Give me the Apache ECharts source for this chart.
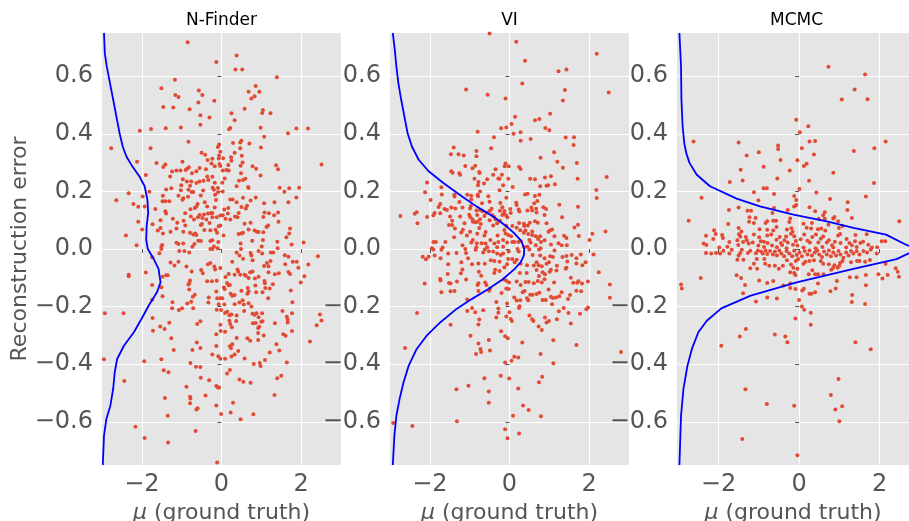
<!DOCTYPE html>
<html>
<head>
<meta charset="utf-8">
<script src="https://cdn.jsdelivr.net/npm/echarts@6/dist/echarts.min.js"></script>
<style>
  html, body { margin: 0; padding: 0; background: #fff; }
  #chart { width: 909px; height: 521px; }
</style>
</head>
<body>
<div id="chart"></div>
<script>
// panel titles and ticks
const panelTitles = ['N-Finder', 'VI', 'MCMC']
const xTicks = [-2, 0, 2]
const yTicks = [-0.6, -0.4, -0.2, 0, 0.2, 0.4, 0.6]

// N-Finder scatter: [mu, reconstruction error]
const nfinderPts = [
  [-0.85,0.718],[0.38,0.672],[-0.13,0.649],[0.35,0.623],[0.52,0.623],[1.39,0.596],[-1.17,0.588],[0.86,0.566],
  [-1.51,0.558],[-0.57,0.55],[0.68,0.546],[0.95,0.546],[-1.16,0.535],[-1.08,0.528],[-0.48,0.535],[0.83,0.53],
  [0.75,0.523],[-0.18,0.515],[-0.58,0.509],[-1.46,0.493],[-1.21,0.491],[-0.8,0.485],[0.58,0.487],[1.04,0.483],
  [1.02,0.472],[0.25,0.471],[1.23,0.471],[-0.53,0.464],[-0.3,0.457],[0.33,0.447],[-0.53,0.431],[0.22,0.42],
  [0.19,0.416],[0.98,0.421],[-2.05,0.411],[-1.77,0.417],[-1.4,0.419],[-1.02,0.422],[1.88,0.418],[2.17,0.418],
  [1.67,0.402],[1.07,0.39],[-0.83,0.372],[0.5,0.376],[0.47,0.37],[0.29,0.368],[-0.06,0.363],[-0.09,0.354],
  [0.7,0.366],[-2.77,0.35],[-1.78,0.35],[0.99,0.352],[0.47,0.35],[-0.03,0.338],[-0.5,0.334],[0.33,0.334],
  [-0.41,0.327],[0.51,0.324],[-0.06,0.325],[0.24,0.319],[-0.35,0.309],[-0.23,0.313],[-0.07,0.314],[0.04,0.315],
  [-2.12,0.303],[-1.63,0.299],[-0.98,0.303],[0.25,0.306],[0.53,0.3],[-1.41,0.293],[-1.46,0.285],[-0.25,0.297],
  [-0.05,0.295],[-0.82,0.284],[-0.17,0.287],[-0.03,0.288],[0.17,0.292],[0.48,0.289],[0.78,0.287],[0.87,0.279],
  [1.37,0.291],[1.42,0.277],[2.51,0.293],[-1.24,0.269],[-1.13,0.273],[-1.03,0.273],[-0.9,0.274],[-0.86,0.279],
  [-0.63,0.27],[-0.55,0.281],[-0.39,0.277],[0.03,0.273],[0.12,0.274],[0.18,0.273],[-1.9,0.257],[-1.29,0.252],
  [-0.74,0.263],[-0.36,0.252],[-0.23,0.251],[0.49,0.263],[0.98,0.255],[-0.97,0.242],[0.08,0.245],[0.54,0.24],
  [0.44,0.237],[0.6,0.244],[-0.87,0.234],[-0.76,0.234],[-0.63,0.229],[-0.55,0.234],[-0.45,0.237],[-0.33,0.24],
  [-0.17,0.23],[0.02,0.23],[-1.01,0.221],[-0.79,0.22],[0.38,0.218],[0.67,0.215],[0.68,0.212],[-0.22,0.213],
  [-0.19,0.206],[-0.09,0.212],[-1.39,0.207],[-1.26,0.211],[-1.02,0.204],[-0.83,0.206],[-0.75,0.198],[-0.71,0.198],
  [-0.46,0.203],[-0.09,0.197],[0.03,0.2],[1.46,0.213],[1.7,0.211],[1.95,0.213],[1.58,0.199],[-2.33,0.194],
  [-1.81,0.199],[-1.98,0.182],[-1.47,0.185],[-1.08,0.185],[-0.96,0.176],[-0.98,0.171],[-0.84,0.181],[-0.52,0.186],
  [-0.16,0.188],[-0.14,0.17],[0.22,0.172],[0.28,0.172],[0.54,0.178],[0.86,0.179],[1.88,0.179],[-2.64,0.169],
  [-1.48,0.166],[-1.41,0.166],[-1.31,0.166],[-0.42,0.162],[-0.6,0.156],[-0.63,0.148],[-0.78,0.138],[-0.67,0.142],
  [-0.36,0.148],[-0.17,0.144],[0.17,0.142],[0.07,0.137],[0.38,0.162],[0.5,0.146],[0.64,0.15],[0.61,0.141],
  [0.73,0.168],[1.07,0.159],[1.33,0.162],[1.68,0.162],[-2.21,0.156],[-2.09,0.147],[-1.93,0.148],[-1.66,0.139],
  [-1.41,0.131],[-1.39,0.123],[-0.91,0.124],[-0.55,0.118],[-0.44,0.12],[-0.34,0.123],[-0.27,0.124],[-0.23,0.125],
  [-0.03,0.116],[0.03,0.117],[0.16,0.123],[0.43,0.125],[1.08,0.127],[1.19,0.124],[1.42,0.127],[1.32,0.117],
  [1.05,0.111],[0.34,0.113],[-0.77,0.113],[-1.22,0.105],[-0.95,0.098],[-0.69,0.102],[-0.59,0.11],[-0.48,0.108],
  [-0.38,0.102],[-0.23,0.11],[-0.12,0.11],[0.1,0.105],[0.22,0.102],[0.4,0.11],[-2.09,0.095],[-1.53,0.1],
  [-1.73,0.086],[-1.11,0.091],[-0.91,0.082],[-0.52,0.083],[-0.49,0.087],[-0.3,0.09],[-0.07,0.079],[-0.03,0.082],
  [0.58,0.088],[0.73,0.091],[1.17,0.082],[1.13,0.076],[1.43,0.095],[-1.99,0.068],[-1.6,0.064],[-1.53,0.073],
  [-1.13,0.071],[-0.96,0.06],[-1.47,0.054],[-1.28,0.06],[-0.79,0.056],[-0.71,0.05],[-0.63,0.049],[-0.66,0.054],
  [-0.43,0.066],[-0.28,0.065],[-0.15,0.067],[-0.11,0.056],[0.05,0.047],[0.43,0.052],[0.5,0.054],[0.54,0.056],
  [0.68,0.068],[0.83,0.064],[0.89,0.06],[0.93,0.059],[1.05,0.058],[1.72,0.071],[1.7,0.054],[1.63,0.041],
  [-2.4,0.047],[-0.58,0.029],[-0.52,0.028],[-0.28,0.028],[-0.23,0.03],[-0.08,0.024],[0.48,0.019],[0.77,0.029],
  [1.04,0.031],[1.4,0.025],[1.76,0.016],[2.06,0.023],[-1.13,0.022],[-1.08,0.017],[-0.96,0.019],[-0.68,0.017],
  [-2.13,0.013],[-1.49,0.014],[-1.51,0.009],[-0.73,0.008],[-0.19,0.009],[-0.1,0.003],[1.01,0.009],[1.41,0.003],
  [-1.51,0],[-1.06,-0.007],[-0.93,-0.007],[-0.81,-0.012],[-0.28,0],[-0.23,0],[0.38,-0.012],[0.49,0],
  [0.73,-0.014],[0.75,-0.023],[0.93,-0.007],[1.02,-0.016],[1.24,-0.012],[1.3,-0.012],[1.59,-0.022],[1.68,-0.027],
  [2.42,-0.025],[-1.56,-0.015],[-1.74,-0.029],[0.45,-0.023],[0.54,-0.034],[0.78,-0.039],[1.23,-0.042],[-1.28,-0.047],
  [-1.18,-0.057],[-1.08,-0.044],[-0.88,-0.061],[-0.51,-0.073],[-0.47,-0.084],[-0.34,-0.053],[-0.28,-0.049],[-0.18,-0.061],
  [-0.16,-0.071],[-0.03,-0.066],[0.27,-0.044],[0.4,-0.071],[0.42,-0.078],[0.47,-0.089],[0.58,-0.089],[0.61,-0.093],
  [0.72,-0.081],[0.78,-0.078],[1.14,-0.049],[1.07,-0.059],[1.18,-0.06],[1.18,-0.081],[1.34,-0.088],[1.44,-0.084],
  [1.6,-0.053],[1.79,-0.044],[1.89,-0.044],[1.93,-0.065],[1.68,-0.08],[1.72,-0.087],[2.18,-0.054],[2.08,-0.095],
  [1.99,-0.116],[-2.33,-0.089],[-2.33,-0.095],[-1.9,-0.082],[-1.39,-0.091],[-1.35,-0.091],[-0.75,-0.078],[-1.48,-0.096],
  [0.18,-0.087],[0.1,-0.097],[0.33,-0.089],[0.68,-0.101],[0.84,-0.102],[0.93,-0.096],[1.08,-0.111],[1.09,-0.119],
  [1.29,-0.122],[-0.79,-0.109],[-0.36,-0.112],[-0.24,-0.112],[-0.12,-0.11],[-1.74,-0.125],[-1.51,-0.133],[-0.81,-0.119],
  [-0.83,-0.123],[-0.81,-0.141],[0.14,-0.118],[0.18,-0.126],[0.21,-0.125],[0.06,-0.134],[0.08,-0.139],[0.23,-0.155],
  [0.27,-0.162],[0.33,-0.16],[0.5,-0.145],[0.66,-0.135],[0.68,-0.148],[0.65,-0.155],[0.85,-0.127],[0.87,-0.15],
  [1.03,-0.15],[1.1,-0.135],[1.21,-0.137],[1.17,-0.171],[1.74,-0.144],[1.78,-0.185],[-1.74,-0.176],[-1.48,-0.164],
  [-1.23,-0.185],[-0.67,-0.159],[-0.72,-0.166],[-0.76,-0.183],[-0.86,-0.189],[-0.33,-0.186],[-0.32,-0.168],[-0.13,-0.148],
  [-0.11,-0.171],[-0.03,-0.171],[0.02,-0.171],[-0.07,-0.192],[0.07,-0.193],[0.45,-0.186],[0.53,-0.178],[0.56,-0.193],
  [0.68,-0.188],[0.75,-0.2],[0.33,-0.192],[-1.24,-0.206],[-0.99,-0.206],[-1.07,-0.212],[-0.71,-0.206],[-0.12,-0.211],
  [-0.01,-0.212],[0.09,-0.222],[0.14,-0.218],[0.25,-0.227],[0.2,-0.23],[0.38,-0.231],[0.57,-0.215],[0.78,-0.225],
  [0.83,-0.228],[0.88,-0.223],[1.02,-0.223],[0.93,-0.237],[1.53,-0.215],[1.77,-0.223],[-2.93,-0.223],[-2.46,-0.223],
  [-1.73,-0.24],[-1.31,-0.256],[-1.54,-0.269],[-1.43,-0.278],[-1.72,-0.284],[-0.61,-0.26],[-0.53,-0.251],[-0.03,-0.263],
  [0.2,-0.249],[0.22,-0.26],[0.26,-0.272],[0.37,-0.25],[0.79,-0.258],[0.86,-0.257],[1.0,-0.253],[1.03,-0.251],
  [0.95,-0.27],[0.92,-0.274],[1.34,-0.258],[1.64,-0.235],[1.66,-0.245],[1.66,-0.255],[2.47,-0.227],[2.51,-0.248],
  [2.39,-0.265],[1.77,-0.285],[-0.02,-0.285],[0.09,-0.287],[-0.13,-0.296],[0.92,-0.292],[1.06,-0.3],[1.55,-0.296],
  [1.61,-0.301],[-1.26,-0.31],[0.38,-0.309],[0.65,-0.31],[0.72,-0.319],[0.92,-0.316],[2.22,-0.321],[-0.62,-0.325],
  [-0.53,-0.344],[-0.73,-0.351],[-0.13,-0.337],[0.21,-0.338],[0.27,-0.331],[0.24,-0.344],[0.42,-0.354],[1.38,-0.331],
  [1.45,-0.352],[-1.2,-0.351],[-2.95,-0.383],[-1.94,-0.39],[-1.51,-0.383],[-0.23,-0.366],[-0.08,-0.372],[-0.03,-0.381],
  [0.09,-0.381],[0.25,-0.373],[0.33,-0.366],[0.58,-0.38],[-0.78,-0.396],[0.81,-0.399],[0.96,-0.396],[0.98,-0.406],
  [1.09,-0.385],[1.21,-0.359],[1.64,-0.394],[-0.64,-0.409],[-0.53,-0.41],[-1.45,-0.421],[-1.33,-0.428],[0.21,-0.42],
  [0.14,-0.432],[-0.52,-0.447],[-0.31,-0.456],[0.45,-0.453],[0.55,-0.461],[0.73,-0.464],[1.5,-0.44],[1.4,-0.449],
  [-2.44,-0.458],[-0.88,-0.478],[-0.13,-0.476],[-0.06,-0.481],[-0.09,-0.481],[-0.4,-0.509],[-0.79,-0.513],[-0.78,-0.519],
  [-1.42,-0.517],[1.33,-0.507],[0.29,-0.534],[-0.79,-0.536],[-0.13,-0.543],[-0.6,-0.553],[-0.63,-0.557],[0.23,-0.568],
  [-0.01,-0.573],[-1.35,-0.579],[0.8,-0.574],[0.48,-0.591],[-2.16,-0.617],[-0.65,-0.632],[-1.93,-0.656],[-1.34,-0.672],
  [-0.11,-0.741]
]

// VI scatter
const viPts = [
  [-0.5,0.748],[0.17,0.72],[2.19,0.678],[0.39,0.654],[1.23,0.617],[1.43,0.623],[0.32,0.575],[-1.09,0.554],
  [1.39,0.552],[2.49,0.543],[-0.55,0.536],[-0.1,0.523],[1.34,0.516],[1.02,0.47],[0.14,0.459],[0.64,0.447],
  [0.75,0.451],[0.05,0.434],[-0.21,0.419],[-0.08,0.422],[0.9,0.42],[1.0,0.412],[-0.8,0.407],[0.1,0.4],
  [0.28,0.405],[-0.39,0.388],[1.41,0.387],[1.62,0.388],[0.28,0.376],[0.53,0.382],[1.61,0.361],[-1.4,0.352],
  [-0.46,0.35],[-0.83,0.34],[-1.47,0.329],[-1.28,0.329],[-1.15,0.325],[-0.83,0.322],[1.12,0.336],[0.78,0.317],
  [-0.1,0.297],[1.2,0.303],[1.69,0.299],[-1.11,0.288],[-0.86,0.289],[-0.93,0.28],[-0.12,0.287],[-0.02,0.287],
  [0.24,0.285],[0.28,0.278],[-0.35,0.277],[1.34,0.282],[-1.46,0.27],[-1.43,0.265],[-1.26,0.263],[-1.24,0.258],
  [-0.76,0.267],[-0.75,0.264],[-0.41,0.258],[-0.19,0.258],[-0.88,0.244],[-0.56,0.242],[-0.25,0.244],[-0.28,0.245],
  [-0.03,0.244],[0.52,0.244],[0.64,0.242],[0.89,0.248],[1.04,0.253],[1.71,0.244],[2.44,0.25],[-2.07,0.231],
  [-0.78,0.233],[-0.64,0.227],[-0.79,0.221],[-0.16,0.221],[0.08,0.215],[0.77,0.218],[0.93,0.22],[0.97,0.221],
  [1.14,0.225],[-1.71,0.214],[-0.25,0.204],[-2.12,0.197],[-0.74,0.2],[0.45,0.192],[0.39,0.189],[0.64,0.184],
  [0.75,0.188],[2.18,0.205],[-1.7,0.189],[-1.38,0.188],[-1.06,0.188],[-0.96,0.185],[-0.8,0.188],[-0.79,0.183],
  [-0.53,0.183],[-0.08,0.178],[2.19,0.177],[-1.98,0.17],[-1.38,0.182],[-0.96,0.172],[-1.26,0.163],[-0.69,0.159],
  [-0.5,0.164],[-0.23,0.16],[0.17,0.161],[0.18,0.153],[0.62,0.159],[0.7,0.167],[1.25,0.154],[1.72,0.147],
  [-1.74,0.156],[-1.78,0.146],[-1.63,0.139],[-1.57,0.135],[-1.46,0.144],[-1.36,0.141],[-1.18,0.144],[-0.99,0.141],
  [-0.97,0.149],[-0.83,0.134],[-0.74,0.135],[-0.68,0.131],[-0.58,0.126],[-0.5,0.132],[-0.45,0.14],[-0.18,0.145],
  [-0.24,0.133],[-0.13,0.132],[0.02,0.139],[0.03,0.125],[0.23,0.137],[0.25,0.13],[0.45,0.134],[0.55,0.144],
  [0.57,0.134],[0.67,0.14],[0.85,0.145],[0.92,0.139],[0.68,0.127],[0.88,0.118],[-2.33,0.128],[-2.38,0.122],
  [-2.74,0.115],[-2.07,0.111],[-1.91,0.117],[-1.88,0.125],[-1.74,0.124],[-1.49,0.113],[-1.24,0.113],[-1.01,0.119],
  [-0.99,0.111],[-0.93,0.103],[-0.81,0.118],[-0.74,0.103],[-0.63,0.115],[-0.44,0.118],[-0.39,0.112],[-0.18,0.118],
  [-0.14,0.123],[-0.09,0.117],[-0.05,0.11],[-0.35,0.103],[-0.24,0.098],[-0.92,0.095],[-0.86,0.093],[-0.8,0.095],
  [-1.44,0.098],[-1.13,0.089],[-0.72,0.087],[-0.5,0.1],[-0.31,0.089],[-0.41,0.082],[-0.08,0.081],[0.07,0.08],
  [0.18,0.074],[0.24,0.09],[0.36,0.088],[0.37,0.08],[0.46,0.082],[0.51,0.091],[0.64,0.096],[0.71,0.091],
  [0.93,0.089],[1.32,0.11],[1.72,0.084],[1.63,0.075],[-2.31,0.089],[-1.52,0.083],[-1.44,0.083],[-1.37,0.071],
  [-1.17,0.067],[-1.21,0.057],[-1.07,0.047],[-0.99,0.06],[-0.76,0.073],[-0.6,0.059],[-0.63,0.047],[-0.81,0.053],
  [-0.3,0.047],[-0.13,0.066],[-0.1,0.054],[-0.03,0.049],[0.04,0.044],[0.27,0.065],[0.36,0.056],[0.4,0.064],
  [0.47,0.052],[0.57,0.061],[0.57,0.049],[0.66,0.044],[0.77,0.044],[0.72,0.035],[0.98,0.06],[1.02,0.065],
  [1.07,0.068],[1.13,0.044],[1.37,0.046],[1.43,0.038],[1.74,0.045],[2.08,0.053],[2.41,0.061],[2.01,0.031],
  [-1.91,0.024],[-1.85,0.024],[-1.61,0.024],[-1.39,0.041],[-0.96,0.023],[-0.92,0.031],[-0.82,0.02],[-0.7,0.02],
  [-0.6,0.019],[-0.48,0.031],[-0.38,0.019],[-0.28,0.024],[-0.16,0.031],[-0.06,0.023],[0.07,0.024],[0.12,0.024],
  [0.22,0.024],[0.28,0.028],[0.5,0.031],[0.53,0.023],[0.66,0.013],[0.79,0.024],[0.88,0.03],[1.04,0.016],
  [1.23,0.02],[1.31,0.013],[1.44,0.013],[-1.95,0.003],[-1.68,0.005],[-1.18,0.013],[-0.83,0.006],[-0.56,0.006],
  [-0.31,0.006],[-0.16,0.008],[0.37,0.007],[0.45,0.008],[0.78,0.003],
  [-1.91,-0.002],[-1.71,-0.003],[-1.33,-0.014],[-1.54,-0.016],[-2.18,-0.027],[-2.1,-0.036],[-2.03,-0.027],[-1.88,-0.023],
  [-1.73,-0.032],[-1.11,0],[-1.09,-0.014],[-0.85,-0.003],[-0.66,-0.012],[-0.62,-0.002],[-0.52,-0.008],[-0.41,-0.009],
  [-0.31,-0.016],[-0.22,-0.021],[-0.16,-0.016],[-0.02,-0.009],[0.2,0],[0.23,-0.009],[0.5,-0.002],[0.58,-0.021],
  [0.74,-0.002],[0.77,-0.023],[0.88,-0.032],[1.02,-0.025],[1.09,-0.028],[1.13,-0.005],[1.33,-0.028],[1.43,-0.024],
  [1.56,-0.021],[1.68,-0.032],[1.79,-0.019],[2.11,-0.019],[1.91,-0.046],[1.83,-0.056],[1.68,-0.05],[1.45,-0.043],
  [1.43,-0.065],[1.19,-0.058],[0.99,-0.046],[0.93,-0.051],[0.81,-0.06],[0.73,-0.056],[0.68,-0.046],[0.61,-0.057],
  [0.44,-0.056],[0.28,-0.051],[0.18,-0.037],[0.13,-0.046],[0.07,-0.035],[-0.03,-0.035],[-0.06,-0.053],[-0.13,-0.063],
  [-0.25,-0.044],[-0.38,-0.042],[-0.47,-0.039],[-0.62,-0.051],[-0.78,-0.05],[-0.94,-0.053],[-1.21,-0.046],[-1.54,-0.053],
  [-1.04,-0.032],[-1.18,-0.071],[-1.22,-0.084],[-1.55,-0.087],[-0.77,-0.079],[-0.71,-0.093],[-0.38,-0.083],[-0.36,-0.072],
  [-0.25,-0.076],[0.26,-0.083],[0.43,-0.083],[0.68,-0.073],[0.74,-0.094],[0.83,-0.081],[0.89,-0.088],[1.01,-0.079],
  [1.04,-0.072],[1.18,-0.075],[1.41,-0.069],[1.54,-0.1],[2.24,-0.081],[-1.74,-0.104],[-1.73,-0.109],[-2.13,-0.12],
  [-1.52,-0.118],[-1.48,-0.12],[-1.32,-0.113],[-1.09,-0.106],[-0.8,-0.125],[-0.78,-0.119],[-0.61,-0.116],[-0.58,-0.125],
  [-0.49,-0.137],[-0.14,-0.106],[-0.08,-0.11],[-0.01,-0.116],[0.18,-0.113],[0.28,-0.125],[0.4,-0.115],[0.48,-0.115],
  [0.61,-0.119],[0.71,-0.111],[0.81,-0.116],[0.88,-0.105],[1.12,-0.116],[1.6,-0.117],[1.7,-0.117],[1.73,-0.112],
  [1.82,-0.12],[1.97,-0.113],[2.52,-0.123],[-1.71,-0.15],[-1.48,-0.147],[-1.38,-0.146],[-0.78,-0.146],[-0.51,-0.145],
  [-0.2,-0.153],[-0.08,-0.137],[-0.02,-0.139],[0.33,-0.15],[0.38,-0.146],[0.52,-0.159],[0.68,-0.156],[0.75,-0.152],
  [0.98,-0.141],[1.31,-0.15],[1.52,-0.16],[1.68,-0.145],[1.8,-0.147],[2.52,-0.169],[-1.06,-0.175],[-0.33,-0.184],
  [0.12,-0.168],[0.18,-0.179],[0.27,-0.178],[0.44,-0.171],[0.47,-0.178],[0.58,-0.159],[0.83,-0.177],[0.91,-0.177],
  [1.04,-0.166],[1.09,-0.17],[1.17,-0.168],[1.25,-0.164],[1.47,-0.174],[-0.06,-0.189],[0.25,-0.199],[0.24,-0.205],
  [1.07,-0.192],[1.36,-0.205],[1.97,-0.203],[1.93,-0.209],[-2.32,-0.222],[-1.06,-0.215],[-0.94,-0.205],[-0.86,-0.22],
  [-0.66,-0.213],[-0.28,-0.207],[-0.28,-0.221],[0.0,-0.22],[1.24,-0.216],[1.48,-0.222],[1.77,-0.225],[-0.33,-0.238],
  [-0.08,-0.234],[0.03,-0.243],[0.06,-0.25],[0.5,-0.231],[0.57,-0.244],[0.6,-0.25],[0.89,-0.238],[0.93,-0.255],
  [0.99,-0.25],[1.19,-0.244],[1.54,-0.259],[-0.76,-0.245],[-0.78,-0.262],[-1.48,-0.263],[0.73,-0.269],[0.81,-0.281],
  [-0.21,-0.286],[-0.98,-0.301],[-0.11,-0.303],[-0.04,-0.31],[-0.52,-0.316],[1.1,-0.317],[0.32,-0.325],[-0.78,-0.328],
  [1.68,-0.333],[-2.62,-0.344],[-0.73,-0.347],[-0.49,-0.352],[-0.71,-0.358],[-0.84,-0.365],[0.78,-0.365],[2.8,-0.358],
  [0.12,-0.374],[0.22,-0.377],[0.05,-0.388],[-0.11,-0.394],[1.1,-0.397],[-0.22,-0.44],[-0.63,-0.449],[-0.01,-0.45],
  [0.82,-0.444],[0.74,-0.463],[-1.03,-0.475],[-1.33,-0.487],[0.22,-0.484],[-0.52,-0.495],[-0.52,-0.534],[0.34,-0.543],
  [0.48,-0.559],[0.09,-0.579],[0.79,-0.581],[-1.32,-0.598],[-2.92,-0.604],[-2.44,-0.615],[-0.11,-0.626],[0.24,-0.641],
  [-0.05,-0.657]
]

// MCMC scatter
const mcmcPts = [
  [0.73,0.633],[1.64,0.606],[1.38,0.554],[1.06,0.519],[1.7,0.52],[-0.07,0.449],[0.23,0.426],[0.02,0.405],
  [-2.62,0.373],[-1.5,0.37],[-0.52,0.359],[-0.52,0.347],[0.26,0.373],[0.4,0.375],[2.15,0.373],[0.07,0.35],
  [-1.0,0.336],[1.36,0.34],[1.87,0.35],[-1.3,0.325],[0.37,0.328],[-0.46,0.309],[-0.04,0.308],[0.19,0.296],
  [0.12,0.288],[-0.88,0.286],[-1.45,0.275],[-0.23,0.273],[0.85,0.265],[-0.54,0.245],[0.25,0.237],[-1.4,0.238],
  [-1.72,0.233],[1.86,0.229],[-0.88,0.211],[-0.8,0.211],[0.01,0.208],[-1.12,0.197],[-0.62,0.191],[0.43,0.196],
  [-2.42,0.178],[-0.12,0.184],[-0.07,0.17],[0.77,0.174],[1.66,0.182],[-1.01,0.169],[1.21,0.162],[-1.5,0.144],
  [-0.12,0.148],[-0.07,0.153],[-0.62,0.142],[-1.74,0.135],[-1.28,0.133],[-1.19,0.133],[-0.28,0.135],[0.26,0.145],
  [0.4,0.131],[0.64,0.128],[1.2,0.135],[-0.66,0.125],[-2.74,0.098],[-1.76,0.087],[-1.23,0.11],[-1.08,0.108],
  [-1.24,0.095],[-1.12,0.09],[-0.79,0.096],[-0.83,0.09],[-0.64,0.098],[-0.57,0.098],[-0.22,0.106],[-0.24,0.094],
  [0.11,0.088],[0.32,0.09],[0.49,0.105],[0.6,0.117],[0.64,0.105],[0.85,0.106],[0.88,0.111],[0.97,0.096],
  [1.31,0.108],[2.49,0.096],[-1.5,0.073],[-0.98,0.069],[-0.79,0.067],[-0.64,0.064],[-0.56,0.076],[-0.3,0.068],
  [-0.19,0.072],[-0.16,0.06],[0.19,0.074],[0.3,0.071],[0.47,0.069],[0.55,0.071],[0.65,0.064],[0.73,0.084],
  [0.99,0.073],[1.08,0.08],[-2.11,0.065],[-2.07,0.052],[-2.31,0.046],[-1.91,0.049],[-1.89,0.038],[-2.13,0.035],
  [-2.37,0.019],[-2.3,0.014],[-1.98,0.005],[-1.73,0.024],[-1.78,0.008],[-1.49,0.051],[-1.43,0.061],[-1.46,0.043],
  [-1.53,0.03],[-1.32,0.042],[-1.3,0.03],[-1.39,0.024],[-1.25,0.019],[-1.15,0.023],[-1.51,0.014],[-1.12,0.05],
  [-0.99,0.041],[-0.95,0.027],[-0.87,0.025],[-0.79,0.047],[-0.69,0.05],[-0.78,0.021],[-0.67,0.012],[-0.56,0.032],
  [-0.48,0.042],[-0.45,0.021],[-0.42,0.014],[-0.36,0.03],[-0.32,0.043],[-0.28,0.023],[-0.2,0.053],[-0.12,0.044],
  [-0.08,0.028],[-0.15,0.015],[-0.04,0.012],[0.04,0.034],[0.13,0.05],[0.21,0.029],[0.27,0.023],[0.33,0.042],
  [0.42,0.05],[0.48,0.023],[0.54,0.036],[0.6,0.043],[0.69,0.023],[0.74,0.03],[0.82,0.013],[0.89,0.025],
  [0.97,0.047],[1.02,0.052],[1.03,0.021],[1.18,0.035],[1.25,0.021],[1.31,0.013],[1.4,0.049],[1.39,0.027],
  [1.52,0.021],[1.59,0.025],[1.68,0.051],[1.72,0.015],[2.05,0.027],[2.14,0.027],[-1.01,0.012],[-0.87,0.007],
  [-0.55,0.006],[-0.31,0.003],[0.11,0.005],[0.41,0.003],[0.58,0.007],[0.85,0.005],[1.17,0.005],[1.43,0.007],
  [1.81,0.005],[1.94,0.006],
  [-2.31,-0.014],[-2.18,-0.016],[-2.06,-0.014],[-1.96,-0.016],[-1.88,-0.006],[-1.73,-0.016],[-1.67,-0.003],[-1.5,-0.023],
  [-1.46,-0.014],[-1.42,-0.003],[-1.27,-0.014],[-1.21,-0.006],[-1.07,-0.015],[-1.02,-0.005],[-0.94,-0.009],[-0.9,-0.016],
  [-0.83,-0.005],[-0.79,-0.017],[-0.72,-0.007],[-0.65,-0.019],[-0.6,-0.009],[-0.55,-0.023],[-0.49,-0.005],[-0.44,-0.016],
  [-0.37,-0.025],[-0.31,-0.007],[-0.24,-0.016],[-0.17,-0.025],[-0.12,-0.006],[-0.06,-0.021],[0.01,-0.012],[0.07,-0.025],
  [0.14,-0.007],[0.21,-0.019],[0.26,-0.005],[0.32,-0.023],[0.39,-0.012],[0.45,-0.005],[0.5,-0.019],[0.57,-0.028],
  [0.62,-0.009],[0.69,-0.019],[0.74,-0.005],[0.79,-0.025],[0.85,-0.012],[0.92,-0.023],[0.98,-0.007],[1.03,-0.019],
  [1.1,-0.03],[1.17,-0.012],[1.23,-0.023],[1.29,-0.007],[1.35,-0.016],[1.43,-0.007],[1.5,-0.019],[1.6,-0.007],
  [1.69,-0.012],[1.78,-0.002],[1.93,-0.016],[-1.53,-0.037],[-1.38,-0.037],[-1.05,-0.035],[-0.86,-0.035],[-1.12,-0.051],
  [-0.84,-0.051],[-0.74,-0.058],[-0.6,-0.058],[-0.4,-0.058],[-0.3,-0.039],[-0.2,-0.054],[-0.14,-0.065],[-0.08,-0.042],
  [-0.02,-0.035],[0.11,-0.051],[0.16,-0.044],[0.26,-0.042],[0.37,-0.039],[0.54,-0.042],[0.6,-0.051],[0.74,-0.053],
  [0.88,-0.056],[1.02,-0.049],[1.08,-0.042],[1.29,-0.046],[1.44,-0.042],[1.5,-0.042],[1.64,-0.044],[1.76,-0.038],
  [-1.21,-0.067],[-1.04,-0.069],[-0.5,-0.069],[-0.22,-0.081],[-0.12,-0.083],[-0.09,-0.09],[-0.04,-0.069],[0.24,-0.088],
  [0.33,-0.074],[0.4,-0.088],[0.47,-0.088],[0.61,-0.088],[0.8,-0.072],[0.85,-0.065],[0.96,-0.065],[1.0,-0.058],
  [2.15,-0.051],[2.4,-0.067],[2.45,-0.079],[1.97,-0.088],[2.07,-0.102],[2.2,-0.09],[2.48,-0.096],[1.66,-0.09],
  [1.43,-0.098],[1.26,-0.098],[-2.93,-0.123],[-2.91,-0.137],[-2.44,-0.101],[-1.55,-0.091],[-1.44,-0.101],[-1.34,-0.125],
  [-0.99,-0.109],[-0.79,-0.118],[-0.64,-0.111],[-0.39,-0.127],[-0.22,-0.12],[-0.22,-0.135],[-0.09,-0.139],[0.12,-0.138],
  [0.08,-0.144],[0.47,-0.12],[0.26,-0.155],[0.31,-0.155],[0.4,-0.15],[0.78,-0.147],[0.91,-0.137],[0.94,-0.111],
  [1.66,-0.126],[1.32,-0.16],[1.31,-0.184],[1.64,-0.191],[-1.39,-0.154],[-0.79,-0.168],[-0.55,-0.172],[-1.07,-0.182],
  [0.0,-0.177],[0.07,-0.2],[0.13,-0.211],[0.29,-0.221],[-0.09,-0.241],[0.29,-0.263],[-1.32,-0.278],[-1.47,-0.304],
  [-0.6,-0.297],[-0.34,-0.304],[-0.29,-0.324],[-1.93,-0.336],[1.4,-0.324],[1.78,-0.348],[0.98,-0.451],[-1.33,-0.487],
  [0.79,-0.507],[-0.8,-0.538],[-0.12,-0.544],[0.9,-0.557],[1.07,-0.546],[1.0,-0.598],[-1.41,-0.66],[-0.04,-0.716]
]

// density curves drawn along the error axis: [offset density, error]
const nfinderKde = [
  [-2.95,0.75],[-2.93,0.68],[-2.88,0.634],[-2.8,0.576],[-2.72,0.519],[-2.64,0.461],[-2.56,0.403],[-2.48,0.356],
  [-2.39,0.322],[-2.24,0.287],[-2.06,0.252],[-1.93,0.218],[-1.86,0.171],[-1.84,0.125],[-1.88,0.079],[-1.89,0.032],
  [-1.85,0],[-1.7,-0.035],[-1.58,-0.069],[-1.53,-0.116],[-1.62,-0.15],[-1.83,-0.197],[-2.01,-0.243],[-2.2,-0.289],
  [-2.45,-0.336],[-2.62,-0.382],[-2.68,-0.428],[-2.72,-0.486],[-2.79,-0.544],[-2.89,-0.59],[-2.95,-0.648],[-2.98,-0.75]
]
const viKde = [
  [-2.93,0.75],[-2.88,0.692],[-2.84,0.634],[-2.79,0.576],[-2.72,0.519],[-2.64,0.461],[-2.56,0.403],[-2.45,0.356],
  [-2.28,0.31],[-2.03,0.27],[-1.66,0.229],[-1.2,0.183],[-0.83,0.148],[-0.41,0.113],[-0.08,0.079],[0.11,0.056],
  [0.3,0.027],[0.37,0],[0.36,-0.023],[0.28,-0.046],[0.13,-0.069],[-0.16,-0.104],[-0.53,-0.139],[-0.95,-0.174],
  [-1.33,-0.208],[-1.74,-0.255],[-2.08,-0.301],[-2.33,-0.347],[-2.53,-0.405],[-2.66,-0.463],[-2.76,-0.521],[-2.84,-0.579],
  [-2.89,-0.648],[-2.93,-0.75]
]
const mcmcKde = [
  [-2.97,0.75],[-2.93,0.634],[-2.92,0.519],[-2.89,0.426],[-2.85,0.368],[-2.8,0.333],[-2.72,0.299],[-2.54,0.258],
  [-2.21,0.218],[-1.55,0.175],[-0.97,0.148],[-0.14,0.119],[0.69,0.096],[1.35,0.073],[2.16,0.05],[2.67,0.014],
  [2.95,0],[2.42,-0.035],[1.35,-0.069],[-0.06,-0.116],[-1.2,-0.162],[-1.93,-0.206],[-2.29,-0.249],[-2.5,-0.289],
  [-2.66,-0.347],[-2.77,-0.405],[-2.87,-0.486],[-2.93,-0.579],[-2.97,-0.75]
]

const chart = echarts.init(document.getElementById('chart'), null, { renderer: 'canvas' })

const FONT = 'DejaVu Sans'
const minus = s => String(s).replace('-', '\u2212')

const grids = [
  { left: 102, top: 33, width: 239, height: 432 },
  { left: 390, top: 33, width: 239, height: 432 },
  { left: 677, top: 33, width: 232, height: 432 }
]
const xRanges = [[-3, 3], [-3, 3], [-3.03, 2.73]]

const xAxes = xRanges.map((r, i) => ({
  type: 'value', gridIndex: i, min: r[0], max: r[1],
  name: '{m|\u03bc} (ground truth)',
  nameLocation: 'middle', nameGap: 31,
  nameTextStyle: {
    fontFamily: FONT, fontSize: 22, color: '#555',
    rich: { m: { fontFamily: FONT, fontSize: 22, color: '#555', fontStyle: 'italic' } }
  },
  axisLine: { show: false },
  axisTick: { show: true, length: 4, lineStyle: { color: '#555' }, customValues: xTicks },
  axisLabel: {
    customValues: xTicks, margin: 8, fontFamily: FONT, fontSize: 24, color: '#555',
    formatter: v => minus(v)
  },
  splitLine: { show: true, lineStyle: { color: '#fff', width: 1.2 } }
}))

const yAxes = grids.map((g, i) => ({
  type: 'value', gridIndex: i, min: -0.75, max: 0.75,
  name: i === 0 ? 'Reconstruction error' : '',
  nameLocation: 'middle', nameGap: 70,
  nameTextStyle: { fontFamily: FONT, fontSize: 22, color: '#555' },
  axisLine: { show: false },
  axisTick: { show: true, length: 4, lineStyle: { color: '#555' }, customValues: yTicks },
  axisLabel: {
    customValues: yTicks, margin: 9, fontFamily: FONT, fontSize: 24, color: '#555',
    formatter: v => minus(v.toFixed(1))
  },
  splitLine: { show: true, lineStyle: { color: '#fff', width: 1.2 } }
}))

const centers = grids.map(g => g.left + 119.5)
const titles = panelTitles.map((t, i) => ({
  text: t, left: centers[i], top: 12, padding: 0, textAlign: 'center',
  textStyle: { fontFamily: FONT, fontSize: 17, fontWeight: 'normal', color: '#000' }
}))

const ptsSets = [nfinderPts, viPts, mcmcPts]
const kdeSets = [nfinderKde, viKde, mcmcKde]
const series = []
ptsSets.forEach((pts, i) => {
  series.push({
    type: 'scatter', xAxisIndex: i, yAxisIndex: i, data: pts,
    symbolSize: 4, itemStyle: { color: '#E24A33', opacity: 1 }, z: 2
  })
  series.push({
    type: 'line', xAxisIndex: i, yAxisIndex: i, data: kdeSets[i],
    showSymbol: false, symbol: 'none', smooth: false, clip: true,
    lineStyle: { color: '#0000FF', width: 1.8 }, z: 3
  })
})

chart.setOption({
  animation: false,
  backgroundColor: '#fff',
  title: titles,
  // keep the panels at their fixed size even though the axis names run off the bottom edge
  grid: grids.map(g => Object.assign({
    show: true, backgroundColor: '#E5E5E5', borderWidth: 0, outerBoundsMode: 'none'
  }, g)),
  xAxis: xAxes,
  yAxis: yAxes,
  series: series
})

window.addEventListener('resize', () => chart.resize())
</script>
</body>
</html>
